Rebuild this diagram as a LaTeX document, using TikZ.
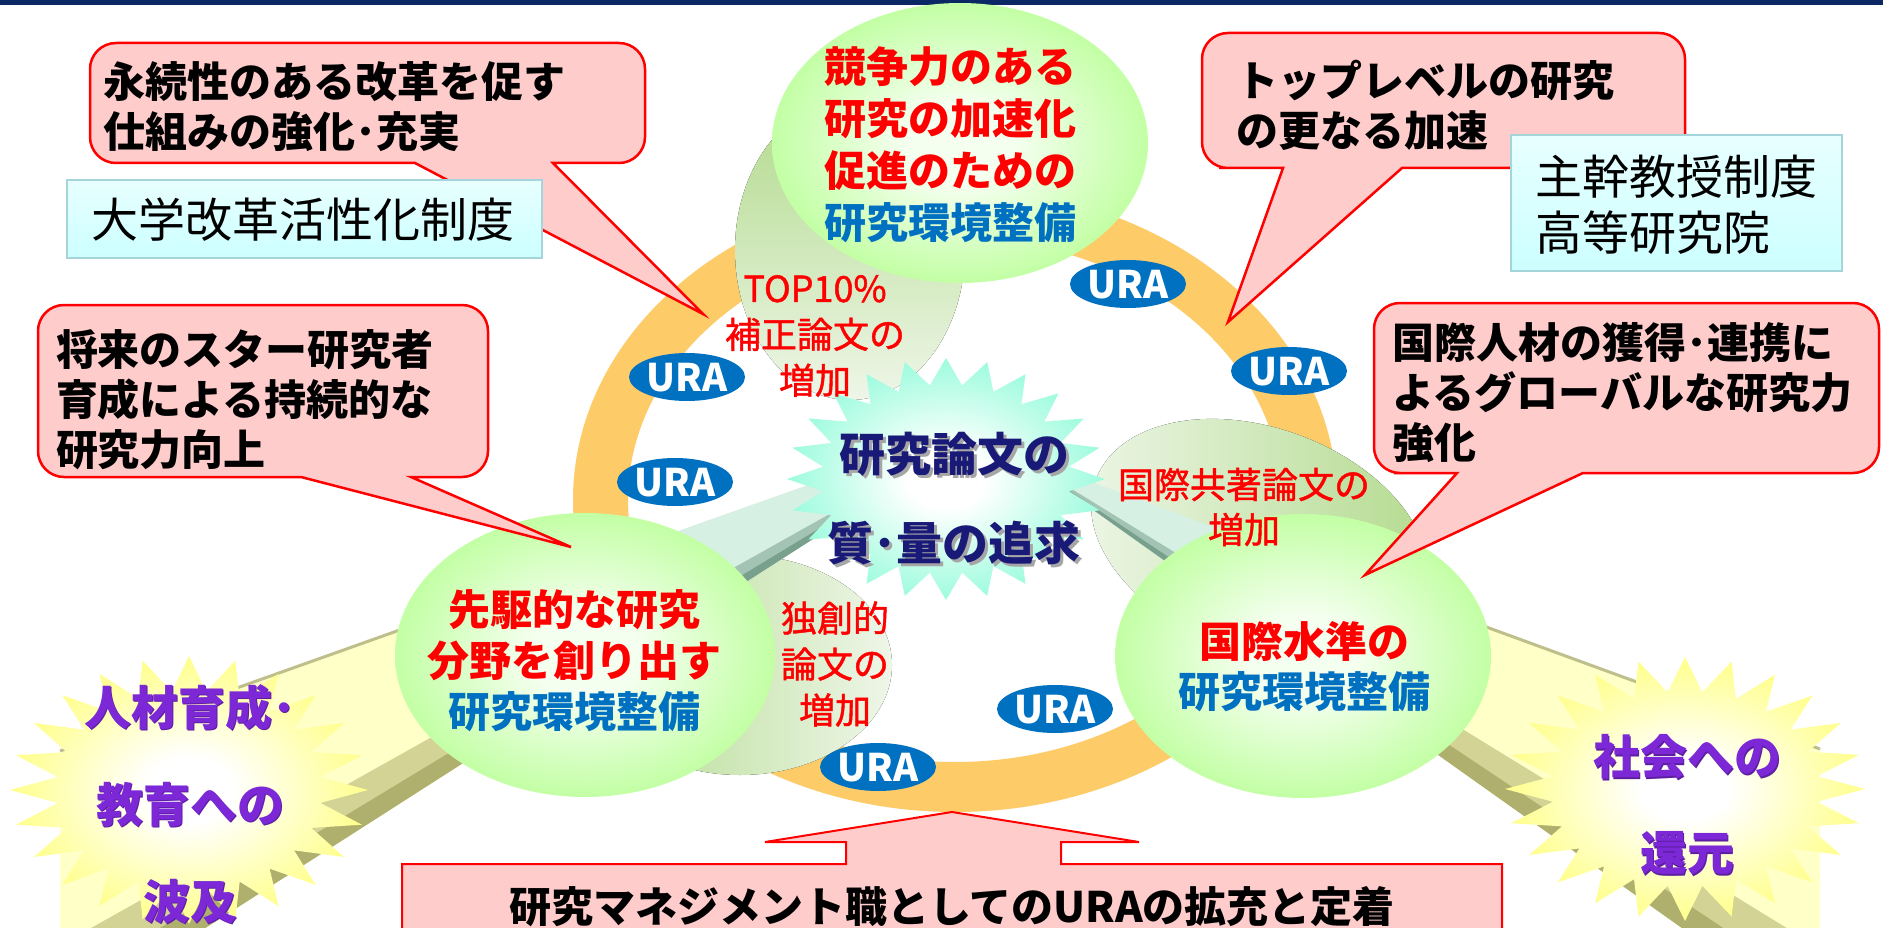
\documentclass[tikz,border=0pt]{standalone}
\usepackage{fontspec}
\setmainfont{Noto Sans CJK JP}
\newfontfamily\medfont{Noto Sans CJK JP}[FakeBold=1.2]
\usepackage{graphicx}
\usetikzlibrary{calc}

\definecolor{navyc}{RGB}{12,40,100}
\definecolor{ringc}{RGB}{253,203,104}
\definecolor{pinkc}{RGB}{255,204,204}
\definecolor{redc}{RGB}{255,0,0}
\definecolor{bluet}{RGB}{0,112,192}
\definecolor{urac}{RGB}{0,112,192}
\definecolor{gOut}{RGB}{153,255,102}
\definecolor{gIn}{RGB}{245,255,240}
\definecolor{mOut}{RGB}{110,250,205}
\definecolor{yOut}{RGB}{255,255,85}
\definecolor{blobG}{RGB}{178,218,140}
\definecolor{blobW}{RGB}{238,246,232}
\definecolor{cyanT}{RGB}{232,255,255}
\definecolor{cyanB}{RGB}{204,255,255}
\definecolor{cyanE}{RGB}{165,212,218}
\definecolor{navyt}{RGB}{25,25,120}
\definecolor{purplet}{RGB}{125,40,215}
\definecolor{yelB}{RGB}{255,255,200}
\definecolor{yelD}{RGB}{175,175,110}
\definecolor{mintB}{RGB}{215,240,228}
\definecolor{mintD}{RGB}{120,160,140}

\pgfdeclareradialshading{greenball}{\pgfpointorigin}{color(0bp)=(gIn); color(7bp)=(gIn); color(40bp)=(gOut); color(50bp)=(gOut)}
\pgfdeclareradialshading{mintburst}{\pgfpointorigin}{color(0bp)=(white); color(6bp)=(white); color(34bp)=(mOut); color(50bp)=(mOut)}
\pgfdeclareradialshading{yelburst}{\pgfpointorigin}{color(0bp)=(white); color(6bp)=(white); color(34bp)=(yOut); color(50bp)=(yOut)}

% cx, cy, rx, ry, ratio, shading
\newcommand{\burst}[6]{%
  \shade[shading=#6] plot[variable=\t, samples at={0,1,...,48}]
   ({#1+#3*(1-(1-#5)*mod(\t,2))*cos(\t*7.5)}, {#2+#4*(1-(1-#5)*mod(\t,2))*sin(\t*7.5)}) -- cycle;}

\begin{document}
\begin{tikzpicture}[x=1pt,y=-1pt,
  every node/.style={inner sep=0pt, outer sep=0pt},
  callout/.style={fill=pinkc, draw=redc, line width=2.5pt},
  ctext/.style={font=\bfseries\fontsize{42}{50}\selectfont, align=left, anchor=west},
  cyanbox/.style={top color=cyanT, bottom color=cyanB, draw=cyanE, line width=2pt},
  btext/.style={font=\fontsize{47}{56}\selectfont, align=left},
  gtext/.style={font=\bfseries\fontsize{42}{52}\selectfont, align=center},
  rlabel/.style={font=\medfont\fontsize{36}{46}\selectfont, align=center, text=redc},
  uratext/.style={font=\bfseries\fontsize{38}{40}\selectfont, text=white},
  ytext/.style={font=\bfseries\fontsize{47}{97}\selectfont, align=center, text=purplet},
]
\useasboundingbox (0,0) rectangle (1883,928);
\fill[white] (0,0) rectangle (1883,928);
\fill[navyc] (0,0) rectangle (1883,5);

% ring
\fill[ringc, even odd rule] (955,500) ellipse [x radius=382pt, y radius=312pt]
  (955,500) ellipse [x radius=327pt, y radius=262pt];

% pale blobs
\fill[top color=blobG, bottom color=blobW] (850,250) ellipse [x radius=115pt, y radius=150pt];
\fill[left color=blobG, right color=blobW] (740,665) ellipse [x radius=152pt, y radius=110pt];
\fill[left color=blobW, right color=blobG, rotate around={-20:(1260,540)}] (1260,540) ellipse [x radius=175pt, y radius=112pt];

% beams
\coordinate (LU1) at (980,424); \coordinate (LL1) at (980,432);
\coordinate (LUm) at (585,564); \coordinate (LLm) at (585,685);
\coordinate (LU2) at (60,751);  \coordinate (LL2) at (60,1021);
\coordinate (RU1) at (1040,463); \coordinate (RL1) at (1040,472);
\coordinate (RUm) at (1303,560); \coordinate (RLm) at (1303,659);
\coordinate (RU2) at (1820,749); \coordinate (RL2) at (1820,1026);

\fill[yelB] (LUm) -- (LU2) -- (LL2) -- (LLm) -- cycle;
\fill[yelD!55!yelB] ($(LUm)!0.72!(LLm)$) -- ($(LU2)!0.72!(LL2)$) -- (LL2) -- (LLm) -- cycle;
\fill[yelD] ($(LUm)!0.88!(LLm)$) -- ($(LU2)!0.88!(LL2)$) -- (LL2) -- (LLm) -- cycle;
\draw[yelD!80, line width=3pt] (LUm) -- (LU2);
\fill[mintB] (LU1) -- (LUm) -- (LLm) -- (LL1) -- cycle;
\fill[mintD!55!mintB] ($(LU1)!0.72!(LL1)$) -- ($(LUm)!0.72!(LLm)$) -- (LLm) -- (LL1) -- cycle;
\fill[mintD] ($(LU1)!0.88!(LL1)$) -- ($(LUm)!0.88!(LLm)$) -- (LLm) -- (LL1) -- cycle;

\fill[yelB] (RUm) -- (RU2) -- (RL2) -- (RLm) -- cycle;
\fill[yelD!55!yelB] ($(RUm)!0.72!(RLm)$) -- ($(RU2)!0.72!(RL2)$) -- (RL2) -- (RLm) -- cycle;
\fill[yelD] ($(RUm)!0.88!(RLm)$) -- ($(RU2)!0.88!(RL2)$) -- (RL2) -- (RLm) -- cycle;
\draw[yelD!80, line width=3pt] (RUm) -- (RU2);
\fill[mintB] (RU1) -- (RUm) -- (RLm) -- (RL1) -- cycle;
\fill[mintD!55!mintB] ($(RU1)!0.72!(RL1)$) -- ($(RUm)!0.72!(RLm)$) -- (RLm) -- (RL1) -- cycle;
\fill[mintD] ($(RU1)!0.88!(RL1)$) -- ($(RUm)!0.88!(RLm)$) -- (RLm) -- (RL1) -- cycle;

% center star
\burst{946}{479}{159}{121}{0.78}{mintburst}
\node[font=\bfseries\fontsize{46}{89}\selectfont, align=center, text=black!35] (centershadow) at (957,502) {研究論文の\\質･量の追求};
\node[font=\bfseries\fontsize{46}{89}\selectfont, align=center, text=navyt] (center) at (954,499) {研究論文の\\質･量の追求};

% green circles
\shade[shading=greenball] (960,143) ellipse [x radius=188pt, y radius=140pt];
\shade[shading=greenball] (585,655) ellipse [x radius=190pt, y radius=142pt];
\shade[shading=greenball] (1303,656) ellipse [x radius=188pt, y radius=142pt];
\node[gtext] (gtop) at (950,145) {\textcolor{redc}{競争力のある}\\\textcolor{redc}{研究の加速化}\\\textcolor{redc}{促進のための}\\\textcolor{bluet}{研究環境整備}};
\node[gtext, font=\bfseries\fontsize{42}{51}\selectfont] (gleft) at (574,661) {\textcolor{redc}{先駆的な研究}\\\textcolor{redc}{分野を創り出す}\\\textcolor{bluet}{研究環境整備}};
\node[gtext, font=\bfseries\fontsize{42}{50}\selectfont] (gright) at (1304,667) {\textcolor{redc}{国際水準の}\\\textcolor{bluet}{研究環境整備}};

% yellow stars
\burst{189}{790}{179}{134}{0.74}{yelburst}
\burst{1685}{789}{180}{132}{0.74}{yelburst}
\node[ytext, text=purplet!75!black] (ylefts) at (191.5,805.5) {人材育成･\\教育への\\波及};
\node[ytext] (yleft) at (190,804) {人材育成･\\教育への\\波及};
\node[ytext, text=purplet!75!black, font=\bfseries\fontsize{47}{96}\selectfont] (yrights) at (1688.5,806.5) {社会への\\還元};
\node[ytext, font=\bfseries\fontsize{47}{96}\selectfont] (yright) at (1687,805) {社会への\\還元};

% red labels
\node[rlabel] (top10) at (815,336) {TOP10\%\\補正論文の\\増加};
\node[rlabel, font=\medfont\fontsize{36}{45}\selectfont] (kyocho) at (1244,507) {国際共著論文の\\増加};
\node[rlabel] (dokuso) at (835,664) {独創的\\論文の\\増加};

% URA ellipses
\foreach \n/\x/\y in {u1/1128/284, u2/1289/371, u3/687/377, u4/675/482, u5/1055/709, u6/878/767} {
  \fill[urac] (\x,\y) ellipse [x radius=58pt, y radius=24pt];
  \node[uratext] (\n) at (\x,\y+1) {URA};
}

% callouts
\draw[callout] (415,163) -- (703,314) -- (553,163) -- (560,163) [rounded corners=26pt] -- (645,163) -- (645,43) -- (90,43) -- (90,163) -- (300,163) [sharp corners] -- cycle;
\node[ctext] (cA) at (103,107) {永続性のある改革を促す\\仕組みの強化･充実};

\draw[callout] (301,477) -- (571,547) -- (411,477) -- (420,477) [rounded corners=26pt] -- (488,477) -- (488,305) -- (38,305) -- (38,477) -- (200,477) [sharp corners] -- cycle;
\node[ctext] (cB) at (56,400) {将来のスター研究者\\育成による持続的な\\研究力向上};

\draw[callout] (1283,168) -- (1228,322) -- (1402,168) -- (1410,168) [rounded corners=26pt] -- (1685,168) -- (1685,33) -- (1202,33) -- (1202,168) -- (1245,168) [sharp corners] -- cycle;
\node[ctext] (cC) at (1236,105) {トップレベルの研究\\の更なる加速};

\draw[callout] (1457,473) -- (1365,575) -- (1583,473) -- (1590,473) [rounded corners=26pt] -- (1879,473) -- (1879,303) -- (1374,303) -- (1374,473) -- (1420,473) [sharp corners] -- cycle;
\node[ctext] (cD) at (1392,393) {国際人材の獲得･連携に\\よるグローバルな研究力\\強化};

% cyan boxes
\draw[cyanbox] (67,180) rectangle (542,258);
\node[btext] (kaikaku) at (303,220) {大学改革活性化制度};
\draw[cyanbox] (1511,135) rectangle (1842,271);
\node[btext, anchor=west] (shukan) at (1535,205) {主幹教授制度\\高等研究院};

% bottom arrow box
\draw[callout, line width=2pt] (402,940) -- (402,864) -- (846,864) -- (846,842) -- (765,842) -- (952,812) -- (1139,842) -- (1061,842) -- (1061,864) -- (1502,864) -- (1502,940) -- cycle;
\node[font=\bfseries\fontsize{42}{50}\selectfont] (ura) at (952,907) {研究マネジメント職としてのURAの拡充と定着};
\end{tikzpicture}
\end{document}
